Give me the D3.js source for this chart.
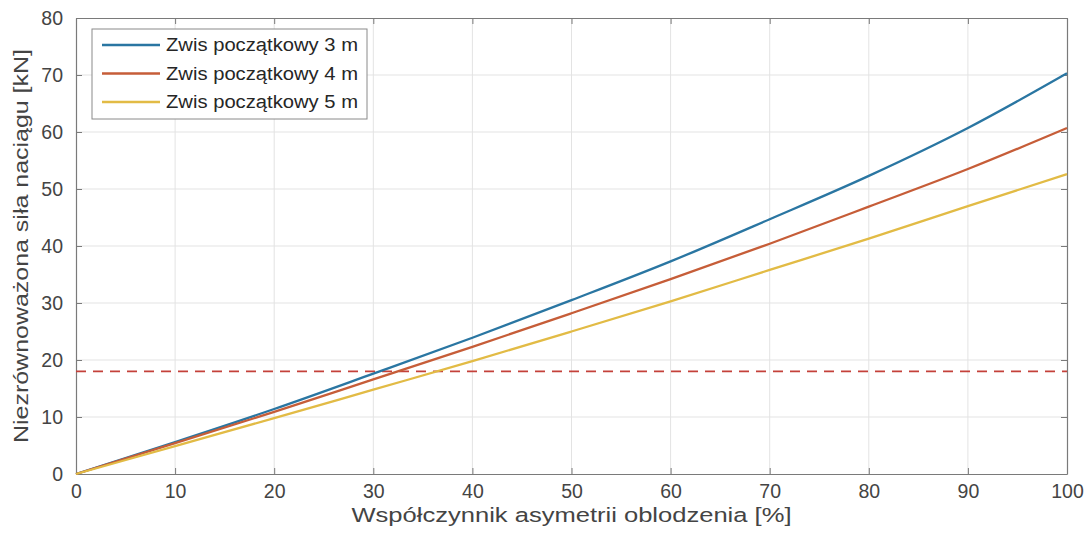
<!DOCTYPE html>
<html>
<head>
<meta charset="utf-8">
<script src="https://cdn.jsdelivr.net/npm/d3@7"></script>
<style>
  html, body { margin: 0; padding: 0; background: #fff; }
  svg { display: block; font-family: "Liberation Sans", Arial, sans-serif; }
</style>
</head>
<body>
<svg id="chart" width="1089" height="545"></svg>
<script>
// Asymmetry factor of icing [%]
const asym = [0, 10, 20, 30, 40, 50, 60, 70, 80, 90, 100];
// Unbalanced tension force [kN] for each initial sag
const sag3 = [0, 5.6, 11.4, 17.6, 23.9, 30.5, 37.3, 44.7, 52.3, 60.7, 70.3];
const sag4 = [0, 5.4, 10.9, 16.6, 22.3, 28.2, 34.2, 40.4, 46.9, 53.5, 60.7];
const sag5 = [0, 4.9, 9.8, 14.8, 19.8, 25.0, 30.3, 35.8, 41.3, 47.0, 52.6];
const seriesNames = ["Zwis początkowy 3 m", "Zwis początkowy 4 m", "Zwis początkowy 5 m"];
const limitValue = 18;
const xTicks = [0, 10, 20, 30, 40, 50, 60, 70, 80, 90, 100];
const yTicks = [0, 10, 20, 30, 40, 50, 60, 70, 80];

const colors = ["#2a76a2", "#c65d38", "#e2bb45"];
const series = [sag3, sag4, sag5];

const svg = d3.select("#chart");
const m = { left: 76, right: 1067, top: 18, bottom: 474 };

const x = d3.scaleLinear().domain([0, 100]).range([m.left, m.right]);
const y = d3.scaleLinear().domain([0, 80]).range([m.bottom, m.top]);

// grid
const grid = svg.append("g");
grid.selectAll(".gx").data(xTicks.slice(1, -1)).join("line")
  .attr("x1", d => x(d)).attr("x2", d => x(d))
  .attr("y1", m.top).attr("y2", m.bottom)
  .attr("stroke", "#e3e3e3").attr("stroke-width", 1);
grid.selectAll(".gy").data(yTicks.slice(1, -1)).join("line")
  .attr("x1", m.left).attr("x2", m.right)
  .attr("y1", d => y(d)).attr("y2", d => y(d))
  .attr("stroke", "#e3e3e3").attr("stroke-width", 1);

// axes with inward ticks
const axisColor = "#7a7a7a";
const textColor = "#444";
const bottomAxis = svg.append("g").attr("transform", `translate(0,${m.bottom})`)
  .call(d3.axisBottom(x).tickValues(xTicks).tickSizeInner(-6).tickSizeOuter(0).tickPadding(10));
const topAxis = svg.append("g").attr("transform", `translate(0,${m.top})`)
  .call(d3.axisTop(x).tickValues(xTicks).tickSizeInner(-6).tickSizeOuter(0).tickFormat(""));
const leftAxis = svg.append("g").attr("transform", `translate(${m.left},0)`)
  .call(d3.axisLeft(y).tickValues(yTicks).tickSizeInner(-6).tickSizeOuter(0).tickPadding(13));
const rightAxis = svg.append("g").attr("transform", `translate(${m.right},0)`)
  .call(d3.axisRight(y).tickValues(yTicks).tickSizeInner(-6).tickSizeOuter(0).tickFormat(""));

[bottomAxis, topAxis, leftAxis, rightAxis].forEach(g => {
  g.select(".domain").attr("stroke", axisColor).attr("stroke-width", 1.2);
  g.selectAll(".tick line").attr("stroke", axisColor);
  g.selectAll(".tick text").attr("fill", textColor).attr("font-size", 19.5)
    .attr("font-family", "Liberation Sans, Arial, sans-serif");
});
bottomAxis.selectAll(".tick text").attr("dy", "0.71em");

// reference limit
svg.append("line")
  .attr("x1", x(0)).attr("x2", x(100))
  .attr("y1", y(limitValue)).attr("y2", y(limitValue))
  .attr("stroke", "#c4413a").attr("stroke-width", 1.8)
  .attr("stroke-dasharray", "10,7");

// curves
const line = d3.line()
  .x((d, i) => x(asym[i]))
  .y(d => y(d))
  .curve(d3.curveMonotoneX);

series.forEach((s, k) => {
  svg.append("path")
    .datum(s)
    .attr("d", line)
    .attr("fill", "none")
    .attr("stroke", colors[k])
    .attr("stroke-width", 2.3);
});

// legend
const lg = svg.append("g");
lg.append("rect")
  .attr("x", 92).attr("y", 29).attr("width", 275).attr("height", 90)
  .attr("fill", "#fff").attr("stroke", "#8a8a8a").attr("stroke-width", 1);
seriesNames.forEach((name, k) => {
  const yy = 45 + k * 28.5;
  lg.append("line")
    .attr("x1", 102).attr("x2", 160).attr("y1", yy).attr("y2", yy)
    .attr("stroke", colors[k]).attr("stroke-width", 2.3);
  lg.append("text")
    .attr("x", 166).attr("y", yy).attr("dy", "0.36em")
    .attr("font-size", 18).attr("fill", "#262626")
    .attr("textLength", 192).attr("lengthAdjust", "spacingAndGlyphs")
    .text(name);
});

// axis labels
svg.append("text")
  .attr("x", x(50)).attr("y", 522)
  .attr("text-anchor", "middle").attr("font-size", 20.5).attr("fill", textColor)
  .attr("textLength", 440).attr("lengthAdjust", "spacingAndGlyphs")
  .text("Współczynnik asymetrii oblodzenia [%]");
svg.append("text")
  .attr("transform", `translate(28,${(m.top + m.bottom) / 2}) rotate(-90)`)
  .attr("text-anchor", "middle").attr("font-size", 20.5).attr("fill", textColor)
  .attr("textLength", 394).attr("lengthAdjust", "spacingAndGlyphs")
  .text("Niezrównoważona siła naciągu [kN]");
</script>
</body>
</html>
